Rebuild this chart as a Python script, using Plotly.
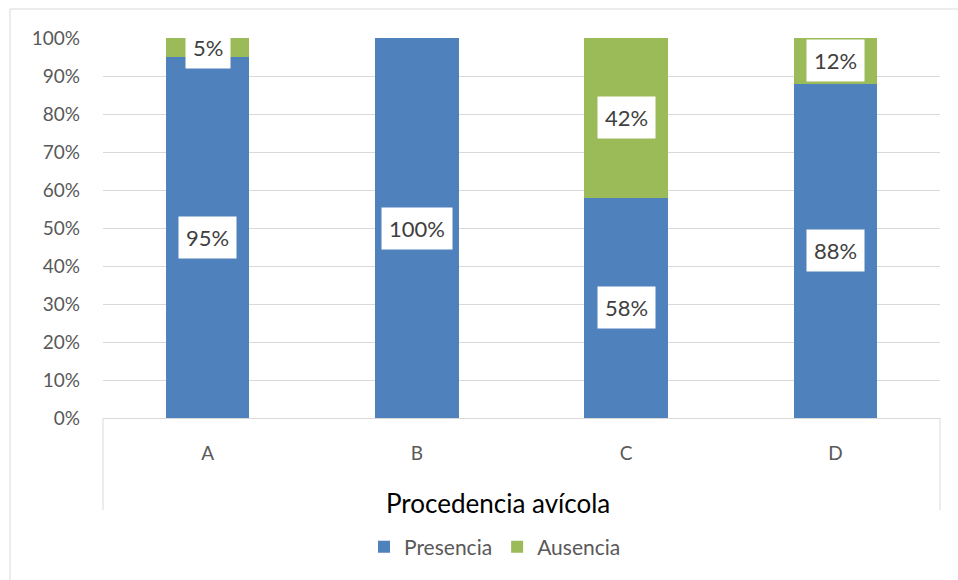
import plotly.graph_objects as go

categories = ["A", "B", "C", "D"]
presencia = [95, 100, 58, 88]
ausencia = [5, 0, 42, 12]
series_names = ["Presencia", "Ausencia"]
colors = ["#4F81BD", "#9BBB59"]

W, H = 958, 580
L, R, T, B = 103, 18, 38, 162
pw, ph = W - L - R, H - T - B

def px_x(p):
    return (p - L) / pw

def px_y(p):
    return (H - B - p) / ph

fig = go.Figure()
for name, vals, col in zip(series_names, [presencia, ausencia], colors):
    fig.add_trace(go.Bar(
        x=categories, y=[v / 100 for v in vals], name=name,
        marker=dict(color=col, line=dict(width=0)),
    ))

annotations = []
for i, c in enumerate(categories):
    base = 0
    for vals in [presencia, ausencia]:
        v = vals[i]
        if v > 0:
            annotations.append(dict(
                x=c, y=(base + v / 2) / 100, xref="x", yref="y",
                text=f"{v}%", showarrow=False,
                font=dict(family="Lato", size=22, color="#404040"),
                bgcolor="white", borderpad=7,
            ))
        base += v

annotations.append(dict(
    x=px_x(498), y=px_y(503), xref="paper", yref="paper",
    text="Procedencia avícola", showarrow=False,
    font=dict(family="Lato", size=26, color="#000000"),
    xanchor="center", yanchor="middle",
))

shapes = [
    dict(type="rect", xref="paper", yref="paper",
         x0=px_x(10), x1=px_x(1000), y0=px_y(640), y1=px_y(9),
         line=dict(color="#D9D9D9", width=1), layer="below"),
    dict(type="line", xref="paper", yref="paper",
         x0=0, x1=0, y0=0, y1=px_y(510),
         line=dict(color="#D9D9D9", width=1)),
    dict(type="line", xref="paper", yref="paper",
         x0=1, x1=1, y0=0, y1=px_y(510),
         line=dict(color="#D9D9D9", width=1)),
]

fig.update_layout(
    width=W, height=H,
    margin=dict(l=L, r=R, t=T, b=B, autoexpand=False),
    barmode="stack", bargap=0.6,
    plot_bgcolor="white", paper_bgcolor="white",
    font=dict(family="Lato", color="#595959"),
    annotations=annotations, shapes=shapes,
    legend=dict(orientation="h", x=px_x(495), xanchor="center",
                y=px_y(547), yanchor="middle", traceorder="normal",
                font=dict(family="Lato", size=21, color="#595959"),
                itemwidth=30),
    xaxis=dict(showgrid=False, showline=False, zeroline=False,
               tickfont=dict(size=19, color="#595959"),
               ticklabelstandoff=22),
    yaxis=dict(range=[0, 1], dtick=0.1, tickformat=".0%",
               gridcolor="#D9D9D9", gridwidth=1,
               zeroline=True, zerolinecolor="#D9D9D9", zerolinewidth=1,
               showline=False,
               tickfont=dict(size=19, color="#595959"),
               ticklabelstandoff=22),
)

fig.write_html("out.html")
